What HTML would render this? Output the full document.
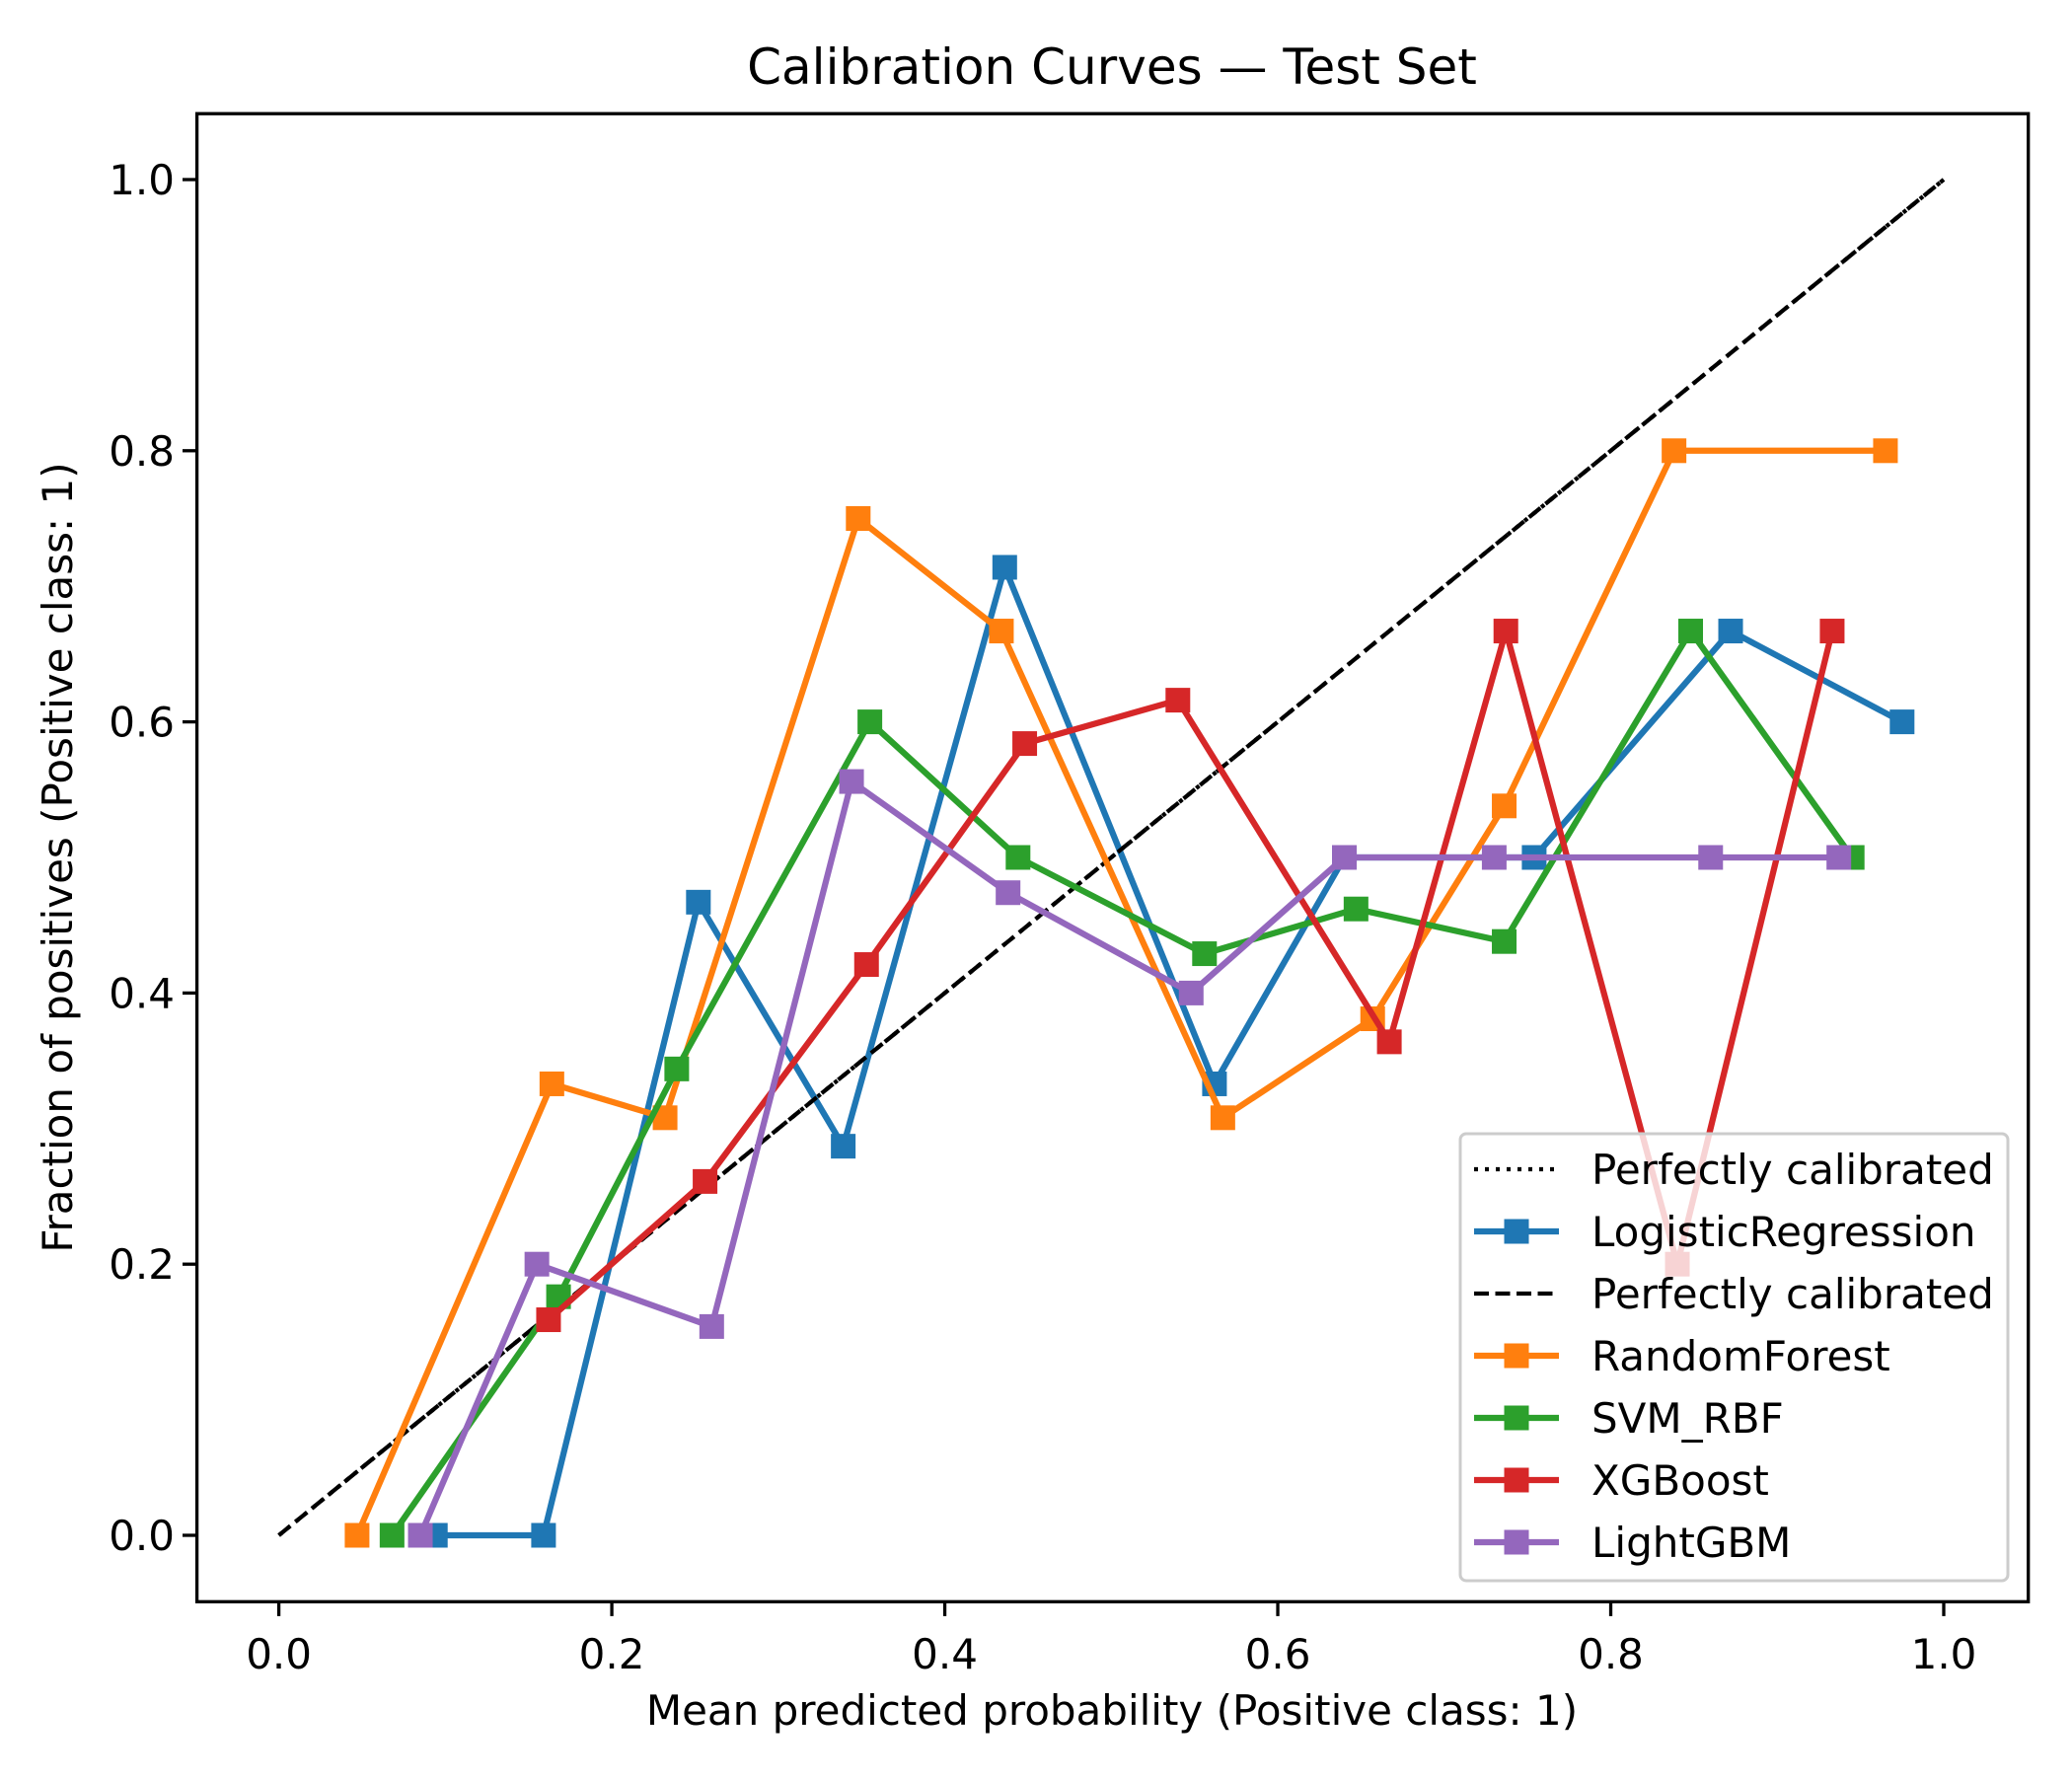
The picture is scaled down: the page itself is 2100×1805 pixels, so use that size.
<!DOCTYPE html>
<html><head><meta charset="utf-8"><style>
html,body{margin:0;padding:0;background:#fff}
svg text{font-family:"DejaVu Sans","Liberation Sans",sans-serif;fill:#000}
</style></head><body>
<svg id="chart" width="2100" height="1800" viewBox="0 0 2100 1800">
<rect width="2100" height="1800" fill="#fff"/>
<text x="1127" y="85" font-size="50" text-anchor="middle">Calibration Curves — Test Set</text>
<g id="plot"></g>
<text x="1127" y="1748" font-size="42" text-anchor="middle">Mean predicted probability (Positive class: 1)</text>
<text x="0" y="0" font-size="42" text-anchor="middle" transform="translate(73,869) rotate(-90)">Fraction of positives (Positive class: 1)</text>
</svg>
<script>
const seriesNames = ["LogisticRegression","RandomForest","SVM_RBF","XGBoost","LightGBM"];
const seriesColors = ["#1f77b4","#ff7f0e","#2ca02c","#d62728","#9467bd"];
const lrX = [0.094,0.159,0.252,0.339,0.436,0.562,0.640,0.754,0.872,0.975];
const lrY = [0,0,0.467,0.287,0.714,0.333,0.5,0.5,0.667,0.6];
const rfX = [0.047,0.164,0.232,0.348,0.434,0.567,0.657,0.736,0.838,0.965];
const rfY = [0,0.333,0.308,0.75,0.667,0.308,0.381,0.538,0.8,0.8];
const svmX = [0.068,0.168,0.239,0.355,0.444,0.556,0.647,0.736,0.848,0.945];
const svmY = [0,0.176,0.344,0.6,0.5,0.429,0.462,0.438,0.667,0.5];
const xgbX = [0.162,0.256,0.353,0.448,0.540,0.667,0.737,0.840,0.933];
const xgbY = [0.159,0.261,0.421,0.584,0.616,0.364,0.667,0.2,0.667];
const lgbX = [0.085,0.155,0.260,0.344,0.438,0.548,0.640,0.730,0.860,0.937];
const lgbY = [0,0.2,0.154,0.556,0.474,0.4,0.5,0.5,0.5,0.5];
const xTicks = [0,0.2,0.4,0.6,0.8,1.0];
const yTicks = [0,0.2,0.4,0.6,0.8,1.0];
const tickLabels = ["0.0","0.2","0.4","0.6","0.8","1.0"];

const NS="http://www.w3.org/2000/svg";
const L=199.6,R=2055.7,T=115.2,B=1623.3;
const sx=v=>282.6+v*(1970-282.6);
const sy=v=>1556-v*(1556-182);
const g=document.getElementById('plot');
function mk(tag,attrs,parent){const e=document.createElementNS(NS,tag);for(const k in attrs)e.setAttribute(k,attrs[k]);(parent||g).appendChild(e);return e;}

let d1=mk('line',{x1:sx(0),y1:sy(0),x2:sx(1),y2:sy(1),stroke:'#000','stroke-width':4.2,'stroke-dasharray':'4,7'});


const all=[[lrX,lrY],[rfX,rfY],[svmX,svmY],[xgbX,xgbY],[lgbX,lgbY]];
all.forEach((s,i)=>{
  if(i===1){
    let d2=mk('line',{x1:sx(0),y1:sy(0),x2:sx(1),y2:sy(1),stroke:'#000','stroke-width':4.2,'stroke-dasharray':'15,6.5'});
    
    
  }
  const grp=mk('g',{});
  
  
  const pts=s[0].map((x,j)=>sx(x)+','+sy(s[1][j])).join(' ');
  mk('polyline',{points:pts,fill:'none',stroke:seriesColors[i],'stroke-width':6.25,'stroke-linejoin':'round'},grp);
  s[0].forEach((x,j)=>{
    const r=mk('rect',{x:sx(x)-12.5,y:sy(s[1][j])-12.5,width:25,height:25,fill:seriesColors[i]},grp);
    
    
  });
});
let fr=mk('rect',{x:L,y:T,width:R-L,height:B-T,fill:'none',stroke:'#000','stroke-width':3.3});


xTicks.forEach((v,i)=>{
  mk('line',{x1:sx(v),y1:B,x2:sx(v),y2:B+14.6,stroke:'#000','stroke-width':3.3});
  const t=mk('text',{x:sx(v),y:1691,'font-size':42,'text-anchor':'middle'});t.textContent=tickLabels[i];
  
  
});
yTicks.forEach((v,i)=>{
  mk('line',{x1:L,y1:sy(v),x2:L-14.6,y2:sy(v),stroke:'#000','stroke-width':3.3});
  const t=mk('text',{x:177,y:sy(v)+15,'font-size':42,'text-anchor':'end'});t.textContent=tickLabels[i];
  
  
});
const lg=mk('g',{});


mk('rect',{x:1480,y:1149,width:555,height:453,rx:6,fill:'#fff','fill-opacity':0.8,stroke:'#ccc','stroke-width':3},lg);
const entries=[['Perfectly calibrated','#000','dot'],[seriesNames[0],seriesColors[0],'m'],['Perfectly calibrated','#000','dash'],[seriesNames[1],seriesColors[1],'m'],[seriesNames[2],seriesColors[2],'m'],[seriesNames[3],seriesColors[3],'m'],[seriesNames[4],seriesColors[4],'m']];
entries.forEach((e,i)=>{
  const y=1185+i*63;
  const eg=mk('g',{},lg);
  
  
  const at={x1:1494,y1:y,x2:1580,y2:y,stroke:e[1],'stroke-width':e[2]==='m'?6.25:4.2};
  if(e[2]==='dot')at['stroke-dasharray']='4,7';
  if(e[2]==='dash')at['stroke-dasharray']='15,6.5';
  mk('line',at,eg);
  if(e[2]==='m')mk('rect',{x:1524.5,y:y-12.5,width:25,height:25,fill:e[1]},eg);
  const t=mk('text',{x:1613,y:y+15,'font-size':42},eg);t.textContent=e[0];
});
</script>
</body></html>
